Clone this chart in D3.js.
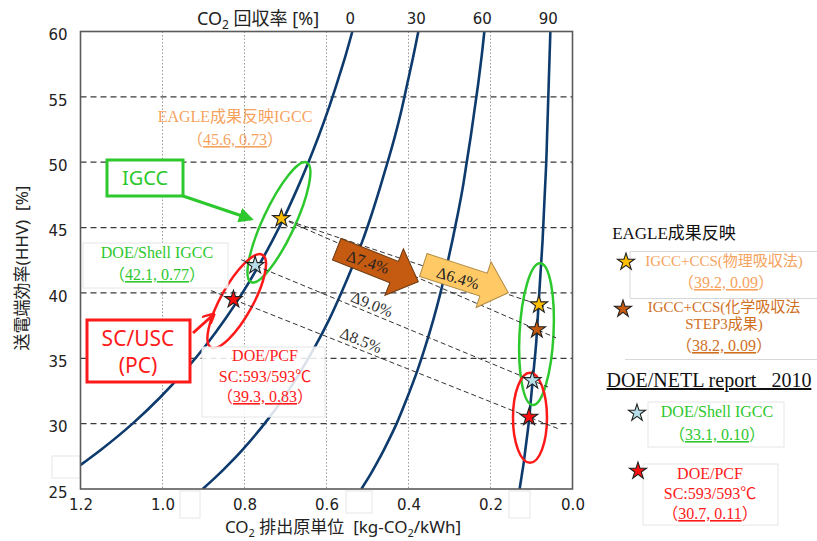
<!DOCTYPE html>
<html><head><meta charset="utf-8">
<script src="https://cdn.jsdelivr.net/npm/d3@7"></script>
<style>body{margin:0;background:#fff}svg{display:block}</style>
</head><body><svg id="c" width="817" height="541"></svg>
<script>
// ---------- data ----------
const xTicks = [1.2, 1.0, 0.8, 0.6, 0.4, 0.2, 0.0];
const yTicks = [25, 30, 35, 40, 45, 50, 55, 60];
const captureRates = [0, 30, 60, 90];
// efficiency levels (%) at which each constant-capture curve was read
const effLevels = [25,26,27,28,30,32,34,36,38,40,42,44,46,48,50,52,54,56,58,60];
const emis0  = [1.288,1.238,1.193,1.150,1.073,1.006,0.947,0.894,0.847,0.805,0.767,0.732,0.700,0.671,0.644,0.619,0.596,0.575,0.555,0.537];
const emis30 = [0.902,0.867,0.835,0.805,0.751,0.704,0.663,0.626,0.593,0.564,0.537,0.512,0.490,0.470,0.451,0.433,0.417,0.403,0.389,0.376];
const emis60 = [0.515,0.495,0.477,0.460,0.429,0.403,0.379,0.358,0.339,0.322,0.307,0.293,0.280,0.268,0.258,0.248,0.239,0.230,0.222,0.215];
const emis90 = [0.129,0.124,0.119,0.115,0.107,0.101,0.095,0.089,0.085,0.081,0.077,0.073,0.070,0.067,0.064,0.062,0.060,0.058,0.056,0.054];
const curveEmissions = [emis0, emis30, emis60, emis90];

// plant points
const starNames = ["EAGLE成果反映IGCC","DOE/Shell IGCC","DOE/PCF","IGCC+CCS(物理吸収法)","IGCC+CCS(化学吸収法)","DOE/Shell IGCC+CCS","DOE/PCF+CCS"];
const starEmission = [0.710, 0.774, 0.827, 0.082, 0.087, 0.098, 0.106];
const starEff      = [45.7, 42.1, 39.5, 39.1, 37.2, 33.3, 30.5];
// comparison lines: [from, to]
const pairFrom = [0, 0, 1, 2];
const pairTo   = [3, 4, 5, 6];
const pairDelta = ["Δ6.4%", "Δ7.4%", "Δ9.0%", "Δ8.5%"];

// ---------- styles ----------
const starFill = ["#FFC000","#B7DEE8","#FF1010","#FFC000","#C55A11","#B7DEE8","#FF1010"];
const pairExt = [[0,16],[0,21],[15,17],[24,32]];
const navy = "#0E3B6E", green = "#2DC82D", red = "#FF1A1A", orangeTxt = "#F6A35E", brownTxt = "#D0701E";
const serif = "'Liberation Serif','Times New Roman','Noto Sans CJK JP',serif";
const sans = "'DejaVu Sans','Noto Sans CJK JP',sans-serif";
const jsans = "'Noto Sans','Noto Sans CJK JP',sans-serif";

const svg = d3.select("#c");
const P = {l:80.5, r:572.5, t:31.5, b:489};
const x = d3.scaleLinear().domain([1.2, 0]).range([P.l, P.r]);
const y = d3.scaleLinear().domain([25, 60]).range([P.b, P.t]);

svg.append("defs").append("clipPath").attr("id","clip")
  .append("rect").attr("x",P.l).attr("y",P.t).attr("width",P.r-P.l).attr("height",P.b-P.t);

// faint helper boxes (text-box remnants in the original)
const faint = "#e6e6e6";
function fbox(x0,y0,x1,y1){svg.append("rect").attr("x",x0).attr("y",y0).attr("width",x1-x0).attr("height",y1-y0)
  .attr("fill","#fff").attr("stroke",faint).attr("stroke-width",1);}
fbox(52,456,80,478);
fbox(180,491,200,518);
fbox(346,491,372,513);
fbox(509,491,530,518);

// grid
const g = svg.append("g");
g.selectAll(".vg").data(xTicks.filter(d=>d>0 && d<1.2)).join("line")
  .attr("x1",d=>x(d)).attr("x2",d=>x(d)).attr("y1",P.t).attr("y2",P.b)
  .attr("stroke","#9a9a9a").attr("stroke-width",1).attr("stroke-dasharray","1.5,2");
g.selectAll(".hg").data(yTicks.filter(d=>d>25 && d<60)).join("line")
  .attr("x1",P.l).attr("x2",P.r).attr("y1",d=>y(d)).attr("y2",d=>y(d))
  .attr("stroke","#3a3a3a").attr("stroke-width",1.3).attr("stroke-dasharray","6,4");

// axes
const xAxis = d3.axisBottom(x).tickValues(xTicks).tickSize(0).tickPadding(10).tickFormat(d3.format(".1f"));
const yAxis = d3.axisLeft(y).tickValues(yTicks).tickSize(0).tickPadding(13).tickFormat(d3.format("d"));
const xa = svg.append("g").attr("transform",`translate(0,${P.b})`).call(xAxis);
const ya = svg.append("g").attr("transform",`translate(${P.l},0)`).call(yAxis);
[xa,ya].forEach(a=>{a.select(".domain").remove();a.selectAll("text").attr("font-family",sans).attr("font-size",15).attr("fill","#222");});
ya.selectAll("text").attr("dy","0.55em");

// curves
const line = d3.line().x(d=>x(d[0])).y(d=>y(d[1])).curve(d3.curveCatmullRom);
const cg = svg.append("g").attr("clip-path","url(#clip)");
curveEmissions.forEach(arr=>{
  cg.append("path").datum(arr.map((e,i)=>[e,effLevels[i]])).attr("d",line)
    .attr("fill","none").attr("stroke",navy).attr("stroke-width",2.6);
});

// plot frame
svg.append("rect").attr("x",P.l).attr("y",P.t).attr("width",P.r-P.l).attr("height",P.b-P.t)
  .attr("fill","none").attr("stroke","#5a5a5a").attr("stroke-width",1.6);

// top axis: capture rate labels at the curve tops
captureRates.forEach((c,i)=>{
  const arr = curveEmissions[i];
  svg.append("text").attr("x",x(arr[arr.length-1])-2).attr("y",24).attr("text-anchor","middle")
    .attr("font-family",sans).attr("font-size",15).attr("fill","#222").text(c);
});
const tt = svg.append("text").attr("x",258).attr("y",25).attr("text-anchor","middle")
  .attr("font-family",jsans).attr("font-size",18).attr("fill","#222");
tt.append("tspan").text("CO");
tt.append("tspan").attr("font-size",12).attr("dy",4).text("2");
tt.append("tspan").attr("dy",-4).text(" 回収率 [%]");

// x title
const xt = svg.append("text").attr("x",343).attr("y",533).attr("text-anchor","middle")
  .attr("font-family",jsans).attr("font-size",17).attr("fill","#222");
xt.append("tspan").text("CO");
xt.append("tspan").attr("font-size",11).attr("dy",4).text("2");
xt.append("tspan").attr("dy",-4).text(" 排出原単位\u00a0\u00a0[kg-CO");
xt.append("tspan").attr("font-size",11).attr("dy",4).text("2");
xt.append("tspan").attr("dy",-4).text("/kWh]");

// y title
svg.append("text").attr("transform","translate(28,268) rotate(-90)").attr("text-anchor","middle")
  .attr("font-family",jsans).attr("font-size",17).attr("fill","#222").text("送電端効率(HHV)\u00a0\u00a0[%]");

// ellipses
function ell(cx,cy,rx,ry,rot,col){
  svg.append("ellipse").attr("cx",0).attr("cy",0).attr("rx",rx).attr("ry",ry)
    .attr("transform",`translate(${x(cx)},${y(cy)}) rotate(${rot})`)
    .attr("fill","none").attr("stroke",col).attr("stroke-width",2.5);
}
ell(0.716,45.4,16,66,25,green);
ell(0.819,39.37,16,53,29,red);
ell(0.0878,36.85,17,71,3,green);
ell(0.1037,30.45,17,45,0,red);

// comparison dashed lines
pairFrom.forEach((a,i)=>{
  const b = pairTo[i];
  const x1=x(starEmission[a]), y1=y(starEff[a]), x2=x(starEmission[b]), y2=y(starEff[b]);
  const L=Math.hypot(x2-x1,y2-y1), ux=(x2-x1)/L, uy=(y2-y1)/L;
  const [eL,eR]=pairExt[i];
  svg.append("line").attr("x1",x1-ux*eL).attr("y1",y1-uy*eL).attr("x2",x2+ux*eR).attr("y2",y2+uy*eR)
    .attr("stroke","#333").attr("stroke-width",1).attr("stroke-dasharray","5,3");
});

// block arrows
function blockArrow(tail,tip,bw,hw,hl,fill,stroke){
  const dx=tip[0]-tail[0], dy=tip[1]-tail[1], L=Math.hypot(dx,dy), ang=Math.atan2(dy,dx)*180/Math.PI;
  const pts=[[0,-bw/2],[L-hl,-bw/2],[L-hl,-hw/2],[L,0],[L-hl,hw/2],[L-hl,bw/2],[0,bw/2]];
  svg.append("polygon").attr("points",pts.map(p=>p.join(",")).join(" "))
    .attr("transform",`translate(${tail[0]},${tail[1]}) rotate(${ang})`)
    .attr("fill",fill).attr("stroke",stroke).attr("stroke-width",1);
  return ang;
}
blockArrow([336.7,249.2],[418.3,281.7],23,50,26,"#C55A11","#6b3a10");
blockArrow([423.3,265],[508.3,292.7],24,48,26,"#FFC966","#b08a40");
function rtext(cx,cy,ang,t,size,col){
  svg.append("text").attr("transform",`translate(${cx},${cy}) rotate(${ang})`).attr("text-anchor","middle")
    .attr("dy","0.35em").attr("font-family",serif).attr("font-size",size).attr("fill",col).text(t);
}
rtext(368,262,18,pairDelta[1],16,"#222");
rtext(458,278,17,pairDelta[0],16,"#222");
rtext(372,304,22,pairDelta[2],16,"#333");
rtext(361,340,22,pairDelta[3],16,"#333");

// stars
const star = d3.symbol().type(d3.symbolStar).size(95);
starEmission.forEach((e,i)=>{
  svg.append("path").attr("d",star()).attr("transform",`translate(${x(e)},${y(starEff[i])})`)
    .attr("fill",starFill[i]).attr("stroke","#222").attr("stroke-width",1.1);
});

// text helper
function txt(cx,base,str,size,col,fam,anchor){
  return svg.append("text").attr("x",cx).attr("y",base).attr("text-anchor",anchor||"middle")
    .attr("font-family",fam||serif).attr("font-size",size).attr("fill",col).text(str);
}
function coord(cx,base,val,size,col){
  const t = svg.append("text").attr("x",cx).attr("y",base).attr("text-anchor","middle")
    .attr("font-family",serif).attr("font-size",size).attr("fill",col);
  t.append("tspan").text("（");
  t.append("tspan").attr("text-decoration","underline").text(val);
  t.append("tspan").text("）");
}

// left annotations
txt(235,122,"EAGLE成果反映IGCC",16,orangeTxt);
coord(235,145,"45.6, 0.73",16,orangeTxt);

svg.append("rect").attr("x",107).attr("y",160).attr("width",76).attr("height",36)
  .attr("fill","#fff").attr("stroke",green).attr("stroke-width",3);
txt(145,185,"IGCC",20,green,jsans);
svg.append("defs").html(`<marker id="ag" viewBox="0 0 10 10" refX="8" refY="5" markerWidth="5" markerHeight="5" orient="auto"><path d="M0,0L10,5L0,10z" fill="${green}"/></marker>
<marker id="ar" viewBox="0 0 10 10" refX="8" refY="5" markerWidth="4" markerHeight="4" orient="auto"><path d="M0,0L10,5L0,10" fill="none" stroke="${red}" stroke-width="2"/></marker>`);
svg.append("line").attr("x1",183).attr("y1",196).attr("x2",251).attr("y2",219)
  .attr("stroke",green).attr("stroke-width",3).attr("marker-end","url(#ag)");

svg.append("rect").attr("x",83).attr("y",243).attr("width",145).attr("height",45)
  .attr("fill","#fff").attr("fill-opacity",0.85).attr("stroke",faint);
txt(157,258,"DOE/Shell IGCC",16,green);
coord(157,280,"42.1, 0.77",16,green);

svg.append("rect").attr("x",87).attr("y",320).attr("width",103).attr("height",62)
  .attr("fill","#fff").attr("stroke",red).attr("stroke-width",3);
txt(138,346,"SC/USC",21,red,jsans);
txt(138,373,"(PC)",21,red,jsans);
svg.append("line").attr("x1",193).attr("y1",333).attr("x2",213).attr("y2",315)
  .attr("stroke",red).attr("stroke-width",3).attr("marker-end","url(#ar)");

svg.append("rect").attr("x",202).attr("y",347).attr("width",123).attr("height",70)
  .attr("fill","#fff").attr("fill-opacity",0.85).attr("stroke",faint);
txt(265,361,"DOE/PCF",16,red);
txt(265,382,"SC:593/593℃",16,red);
coord(265,402,"39.3, 0.83",16,red);

// right legend
txt(674,239,"EAGLE成果反映",17,"#111");
svg.append("path").attr("d","M817,251.5H630V298.5H817").attr("fill","none").attr("stroke","#d8d8d8");
svg.append("path").attr("d","M625,359.5H817").attr("fill","none").attr("stroke","#d8d8d8");
const lstar = d3.symbol().type(d3.symbolStar).size(90);
function lst(cx,cy,i){svg.append("path").attr("d",lstar()).attr("transform",`translate(${cx},${cy})`)
  .attr("fill",starFill[i]).attr("stroke","#222").attr("stroke-width",1.1);}
lst(626,262,3);
txt(724,266,"IGCC+CCS(物理吸収法)",15,orangeTxt);
coord(726,288,"39.2, 0.09",16,orangeTxt);
lst(623,309,4);
txt(724,312,"IGCC+CCS(化学吸収法",15,brownTxt);
txt(724,329,"STEP3成果)",15,brownTxt);
coord(724,351,"38.2, 0.09",16,brownTxt);

txt(709,387,"DOE/NETL report\u00a0\u00a0\u00a02010",20,"#111").attr("text-decoration","underline");

svg.append("rect").attr("x",648).attr("y",402).attr("width",136).attr("height",45).attr("fill","#fff").attr("stroke",faint);
lst(637,413,5);
txt(717,417,"DOE/Shell IGCC",16,green);
coord(717,440,"33.1, 0.10",16,green);

svg.append("rect").attr("x",643).attr("y",464).attr("width",135).attr("height",61).attr("fill","#fff").attr("stroke",faint);
lst(638,471,6);
txt(710,478.5,"DOE/PCF",16,red);
txt(710,499,"SC:593/593℃",16,red);
coord(710,519,"30.7, 0.11",16,red);
</script>
</body></html>
